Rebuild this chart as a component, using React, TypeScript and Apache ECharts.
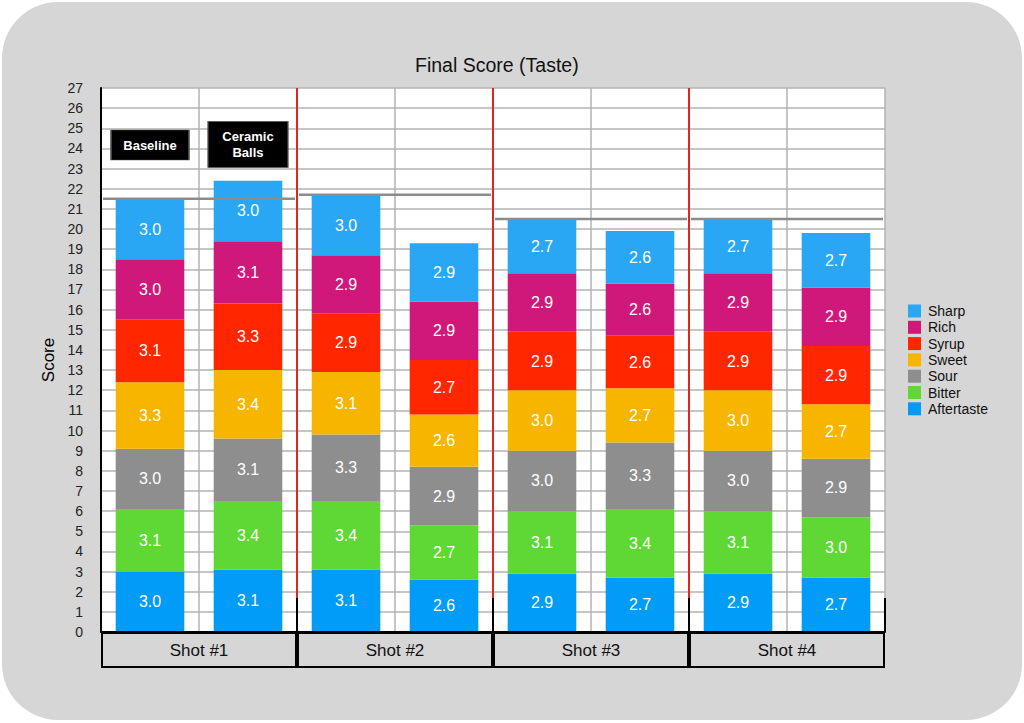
import React, { useEffect, useRef } from "react";
import * as echarts from "echarts";

const barCats = ["1A", "1B", "2A", "2B", "3A", "3B", "4A", "4B"];
const groups = ["Shot #1", "Shot #2", "Shot #3", "Shot #4"];
const seriesNames = ["Aftertaste", "Bitter", "Sour", "Sweet", "Syrup", "Rich", "Sharp"];
const colors = ["#009cf7", "#5fd836", "#8e8e8e", "#f7b500", "#ff2600", "#d0187a", "#29a7f4"];

const aftertaste = [3.0, 3.1, 3.1, 2.6, 2.9, 2.7, 2.9, 2.7];
const bitter = [3.1, 3.4, 3.4, 2.7, 3.1, 3.4, 3.1, 3.0];
const sour = [3.0, 3.1, 3.3, 2.9, 3.0, 3.3, 3.0, 2.9];
const sweet = [3.3, 3.4, 3.1, 2.6, 3.0, 2.7, 3.0, 2.7];
const syrup = [3.1, 3.3, 2.9, 2.7, 2.9, 2.6, 2.9, 2.9];
const rich = [3.0, 3.1, 2.9, 2.9, 2.9, 2.6, 2.9, 2.9];
const sharp = [3.0, 3.0, 3.0, 2.9, 2.7, 2.6, 2.7, 2.7];

const annotations = ["Baseline", "Ceramic\nBalls"];
const annotationY = [24.17, 24.2];

const FONT = "'Liberation Sans', Arial, sans-serif";

export default function App() {
  const ref = useRef<HTMLDivElement>(null);

  useEffect(() => {
    document.body.style.margin = "0";
    if (!ref.current) return;
    const chart = echarts.init(ref.current, undefined, { renderer: "svg" });
    const values = [aftertaste, bitter, sour, sweet, syrup, rich, sharp];

    const totals = barCats.map((_, i) => values.reduce((s, arr) => s + arr[i], 0));

    const barSeries = seriesNames.map((name, k) => ({
      name,
      type: "bar",
      stack: "taste",
      xAxisIndex: 0,
      yAxisIndex: 0,
      barWidth: "70%",
      data: values[k],
      itemStyle: { color: colors[k] },
      label: {
        show: true,
        position: "inside",
        color: "#ffffff",
        fontSize: 16,
        fontFamily: FONT,
        formatter: (p: any) => Number(p.value).toFixed(1),
      },
      emphasis: { disabled: true },
      z: 3,
    }));

    const baselineSeries = groups.map((g, gi) => ({
      name: "base-" + g,
      type: "line",
      xAxisIndex: 1,
      yAxisIndex: 0,
      symbol: "none",
      silent: true,
      data: [
        [gi * 2 + 0.02, totals[gi * 2]],
        [gi * 2 + 1.98, totals[gi * 2]],
      ],
      lineStyle: { color: "#8c8c8c", width: 2.5, type: "solid" },
      z: 6,
    }));

    const option: any = {
      animation: false,
      textStyle: { fontFamily: FONT },
      title: {
        text: "Final Score (Taste)",
        left: 410,
        top: 50,
        textStyle: { fontSize: 19.5, fontWeight: "normal", color: "#111", fontFamily: FONT },
      },
      legend: {
        data: [...seriesNames].reverse(),
        orient: "vertical",
        left: 903,
        top: 299,
        icon: "rect",
        itemWidth: 13,
        itemHeight: 13,
        itemGap: 2.3,
        selectedMode: false,
        textStyle: { fontSize: 14, color: "#111", fontFamily: FONT, padding: [0, 0, 0, 2] },
      },
      grid: [
        { left: 101, top: 88, width: 784, height: 544 },
        { left: 101, top: 632, width: 784, height: 36 },
      ],
      xAxis: [
        {
          type: "category",
          gridIndex: 0,
          data: barCats,
          boundaryGap: true,
          axisLine: { show: false },
          axisTick: { show: false },
          axisLabel: { show: false },
          splitLine: { show: true, interval: 0, lineStyle: { color: "#b3b3b3", width: 1.5 } },
        },
        { type: "value", gridIndex: 0, min: 0, max: 8, show: false },
        {
          type: "category",
          gridIndex: 0,
          data: groups,
          position: "bottom",
          axisLine: { show: true, lineStyle: { color: "#000", width: 2 } },
          axisTick: { show: true, inside: true, length: 34, interval: 0, lineStyle: { color: "#000", width: 2 } },
          axisLabel: { show: false },
          splitLine: { show: false },
          z: 8,
        },
        { type: "category", gridIndex: 1, data: groups, show: false },
      ],
      yAxis: [
        {
          type: "value",
          gridIndex: 0,
          min: 0,
          max: 27,
          interval: 1,
          name: "Score",
          nameLocation: "middle",
          nameGap: 43,
          nameTextStyle: { fontSize: 17, color: "#000", fontFamily: FONT },
          axisLine: { show: true, lineStyle: { color: "#000", width: 2 } },
          axisTick: { show: false },
          axisLabel: {
            fontSize: 14,
            color: "#222",
            margin: 18,
            fontFamily: FONT,
          },
          splitLine: { show: true, lineStyle: { color: "#b3b3b3", width: 1.5 } },
        },
        { type: "value", gridIndex: 1, min: 0, max: 1, show: false },
      ],
      series: [
        ...barSeries,
        ...baselineSeries,
        {
          name: "dividers",
          type: "line",
          xAxisIndex: 1,
          yAxisIndex: 0,
          data: [],
          silent: true,
          z: 5,
          markLine: {
            silent: true,
            symbol: "none",
            label: { show: false },
            lineStyle: { color: "#e3261c", width: 2, type: "solid" },
            data: [{ xAxis: 2 }, { xAxis: 4 }, { xAxis: 6 }],
          },
        },
        {
          name: "annotations",
          type: "scatter",
          xAxisIndex: 0,
          yAxisIndex: 0,
          silent: true,
          z: 9,
          data: annotations.map((a, i) => ({
            value: [i, annotationY[i]],
            name: a,
            symbol: "rect",
            symbolSize: i === 0 ? [78, 30] : [80, 46],
          })),
          itemStyle: { color: "#000", borderColor: "#555", borderWidth: 1, opacity: 1 },
          label: {
            show: true,
            position: "inside",
            formatter: (p: any) => p.name,
            color: "#fff",
            fontSize: 13,
            fontWeight: "bold",
            lineHeight: 16,
            fontFamily: FONT,
          },
        },
        {
          name: "groups",
          type: "bar",
          xAxisIndex: 3,
          yAxisIndex: 1,
          barWidth: "100%",
          silent: true,
          data: groups.map(() => 1),
          itemStyle: { color: "#d6d6d6", borderColor: "#000", borderWidth: 2 },
          label: {
            show: true,
            position: "inside",
            formatter: (p: any) => p.name,
            color: "#111",
            fontSize: 17,
            fontFamily: FONT,
          },
        },
      ],
    };

    chart.setOption(option);
    return () => chart.dispose();
  }, []);

  return (
    <div style={{ position: "relative", width: 1024, height: 723, background: "#fff", overflow: "hidden" }}>
      <div
        style={{
          position: "absolute",
          left: 2,
          top: 2,
          width: 1020,
          height: 718,
          borderRadius: 56,
          background: "#d6d6d6",
        }}
      />
      <div
        style={{
          position: "absolute",
          left: 101,
          top: 88,
          width: 784,
          height: 544,
          background: "#fff",
        }}
      />
      <div ref={ref} style={{ position: "absolute", left: 0, top: 0, width: 1024, height: 723 }} />
    </div>
  );
}
